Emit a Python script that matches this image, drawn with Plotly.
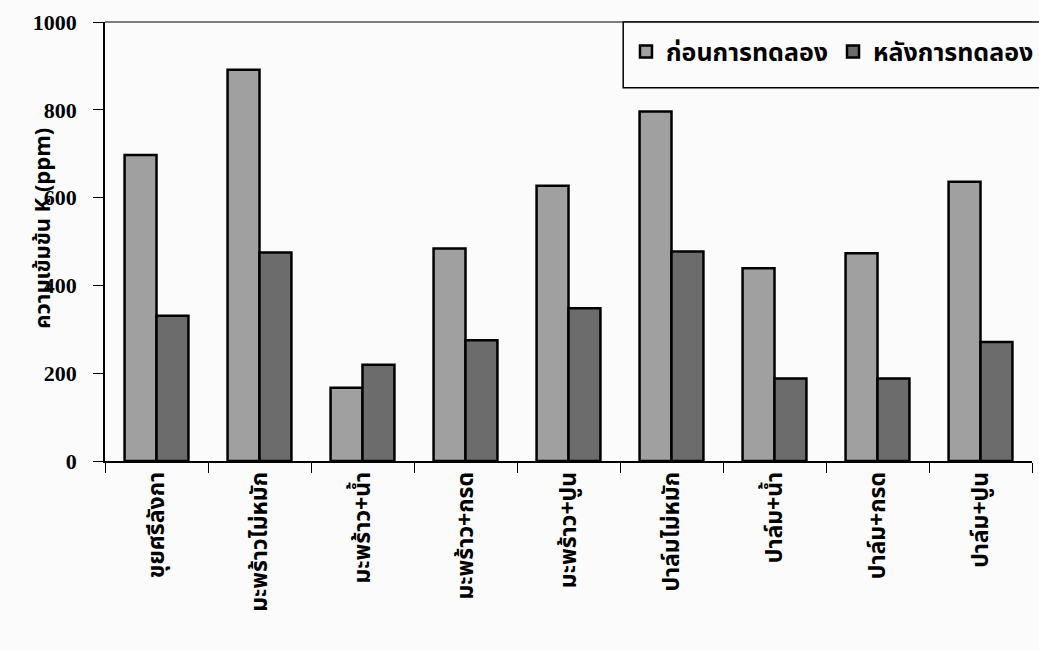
import plotly.graph_objects as go

categories = ["ขุยศรีลังกา", "มะพร้าวไม่หมัก", "มะพร้าว+น้ำ", "มะพร้าว+กรด", "มะพร้าว+ปูน",
              "ปาล์มไม่หมัก", "ปาล์ม+น้ำ", "ปาล์ม+กรด", "ปาล์ม+ปูน"]
before = [697, 891, 167, 484, 627, 796, 439, 473, 636]
after = [331, 475, 219, 275, 348, 477, 188, 188, 271]
yticks = [0, 200, 400, 600, 800, 1000]

thai = "Noto Sans Thai, Noto Sans, sans-serif"
serif = "Liberation Serif, Times New Roman, serif"

fig = go.Figure()
fig.add_trace(go.Bar(x=categories, y=before, name="ก่อนการทดลอง",
                     marker=dict(color="#a0a0a0", line=dict(color="black", width=2.5))))
fig.add_trace(go.Bar(x=categories, y=after, name="หลังการทดลอง",
                     marker=dict(color="#6c6c6c", line=dict(color="black", width=2.5))))

fig.update_layout(
    width=1039, height=651,
    margin=dict(l=105, r=0, t=22, b=190),
    paper_bgcolor="#fbfbfb", plot_bgcolor="#fbfbfb",
    barmode="group", bargap=0.38, bargroupgap=0,
    showlegend=True,
    legend=dict(orientation="h", x=0.562, xanchor="left", y=0.932, yanchor="middle",
                borderwidth=0, bgcolor="rgba(0,0,0,0)",
                font=dict(family=thai, size=25, color="black", weight="bold")),
    xaxis=dict(tickangle=-90, showline=True, linecolor="black", linewidth=1.5,
               ticks="outside", tickson="boundaries", ticklen=10, tickcolor="black",
               tickfont=dict(family=thai, size=23, color="black", weight="bold")),
    yaxis=dict(range=[0, 1000], tickvals=yticks, showgrid=False, zeroline=False,
               showline=True, linecolor="black", linewidth=1.5,
               ticks="outside", ticklen=10, tickcolor="black", ticklabelstandoff=12,
               tickfont=dict(family=serif, size=22, color="black", weight="bold")),
)
# y-axis title, placed close to the tick labels as in the original
fig.add_annotation(text="<b>ความเข้มข้น K (ppm)</b>", xref="paper", yref="paper",
                   x=-0.066, y=0.531, xanchor="center", yanchor="middle",
                   textangle=-90, showarrow=False,
                   font=dict(family=thai, size=22, color="black"))
# top border line of plot area
fig.add_shape(type="line", xref="paper", yref="paper", x0=0, x1=1, y0=1, y1=1,
              line=dict(color="black", width=1))
# legend frame (runs off the right edge as in the original)
fig.add_shape(type="rect", xref="paper", yref="paper", x0=0.559, x1=1.05, y0=0.85, y1=1,
              line=dict(color="black", width=1.5), fillcolor="#fbfbfb", layer="above")

fig.write_html("out.html", config={"displayModeBar": False},
               post_script="document.body.style.margin='0';")
